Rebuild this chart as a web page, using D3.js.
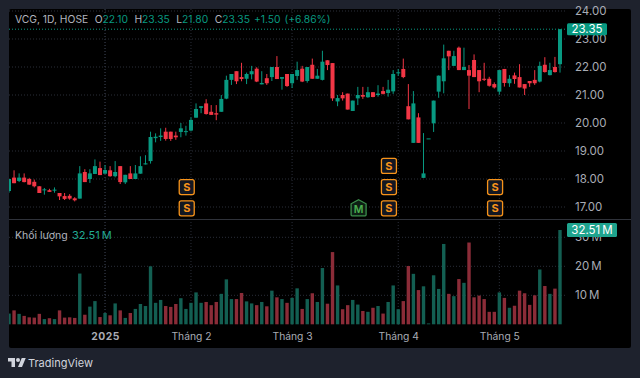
<!DOCTYPE html>
<html lang="en">

<head>
    <meta charset="UTF-8">
    <script src="https://d3js.org/d3.v7.min.js"></script>
    <title>VCG 1D</title>
    <style>
        html, body { margin: 0; padding: 0; background: #1e222d; overflow: hidden; }
        svg { display: block; font-family: Inter, Roboto, sans-serif; }
        .axis path, .axis line { display: none; }
        .axis text { fill: #a9acb5; font-size: 11.5px; font-family: Inter, Roboto, sans-serif; }
    </style>
</head>

<body>
    <svg id="mainsvg" width="640" height="378"></svg>

    <script>
        // OHLC, one entry per trading day
        const opens = [17.57, 18.05, 17.93, 18.05, 18.00, 17.90, 17.74, 17.60, 17.60, 17.60,
            17.50, 17.39, 17.40, 17.31, 17.30, 18.25, 18.00, 18.18, 18.39, 18.19,
            18.31, 18.10, 18.46, 17.88, 18.20, 18.00, 18.19, 18.52, 18.64, 19.46,
            19.50, 19.69, 19.69, 19.55, 19.68, 19.69, 19.73, 20.19, 20.54, 20.70,
            20.40, 20.35, 20.40, 20.87, 21.54, 21.85, 21.64, 21.58, 21.74, 21.94,
            21.38, 21.60, 21.64, 22.00, 21.58, 21.75, 21.42, 21.68, 21.94, 21.50,
            22.08, 21.58, 21.54, 22.24, 22.14, 20.77, 21.00, 21.05, 20.43, 20.88,
            21.00, 20.92, 21.10, 21.00, 21.14, 21.07, 21.13, 21.79, 21.93, 20.60,
            19.29, 20.20, 18.04, 19.45, 19.99, 21.12, 21.49, 22.58, 22.04, 22.69,
            21.89, 21.89, 22.25, 21.89, 21.58, 21.58, 21.39, 21.12, 21.93, 21.42,
            21.70, 21.64, 21.39, 21.50, 21.54, 21.48, 22.08, 21.71, 22.00, 22.10]
        const highs = [18.00, 18.31, 18.20, 18.20, 18.04, 17.98, 17.74, 17.68, 17.65, 17.70,
            17.50, 17.50, 17.46, 17.35, 18.46, 18.35, 18.35, 18.70, 18.62, 18.50,
            18.46, 18.64, 18.46, 18.15, 18.46, 18.50, 18.81, 18.85, 19.69, 19.63,
            19.81, 19.83, 19.69, 19.69, 20.00, 19.90, 20.20, 20.70, 20.60, 20.85,
            20.64, 20.64, 21.00, 21.69, 21.75, 21.85, 22.15, 21.80, 22.04, 21.99,
            21.85, 21.75, 22.00, 22.39, 21.64, 21.75, 21.75, 22.19, 22.04, 22.00,
            22.30, 21.93, 22.58, 22.24, 22.14, 21.00, 21.10, 21.05, 20.80, 21.29,
            21.29, 21.29, 21.10, 21.35, 21.29, 21.54, 21.89, 21.93, 22.30, 21.39,
            21.14, 20.35, 19.64, 19.45, 20.80, 21.70, 22.80, 22.58, 22.58, 22.73,
            22.69, 22.07, 22.45, 21.89, 22.15, 21.65, 21.45, 21.89, 21.93, 21.71,
            21.80, 22.10, 21.39, 21.50, 21.89, 22.19, 22.35, 22.15, 22.36, 23.35]
        const lows = [17.51, 17.85, 17.89, 17.88, 17.79, 17.70, 17.50, 17.44, 17.54, 17.51,
            17.25, 17.25, 17.26, 17.20, 17.30, 17.89, 17.86, 18.18, 18.14, 18.19,
            18.08, 18.06, 17.82, 17.82, 18.00, 18.00, 18.19, 18.52, 18.55, 19.31,
            19.36, 19.37, 19.36, 19.40, 19.49, 19.55, 19.70, 20.19, 20.35, 20.30,
            20.29, 20.10, 20.40, 20.85, 21.36, 21.39, 21.49, 21.39, 21.56, 21.46,
            21.38, 21.36, 21.50, 21.57, 21.19, 21.29, 21.25, 21.54, 21.46, 21.44,
            21.58, 21.58, 21.52, 21.89, 20.79, 20.60, 20.80, 20.48, 20.43, 20.64,
            20.86, 20.90, 20.92, 20.94, 21.02, 20.94, 21.04, 21.68, 21.60, 20.13,
            19.29, 19.29, 18.04, 19.45, 19.68, 20.90, 21.06, 21.89, 22.04, 21.89,
            21.89, 20.50, 21.64, 21.10, 21.50, 21.30, 21.23, 21.01, 21.30, 21.29,
            21.40, 21.27, 21.00, 21.29, 21.36, 21.45, 21.80, 21.70, 21.80, 21.80]
        const closes = [18.00, 17.85, 18.05, 17.89, 17.80, 17.74, 17.50, 17.63, 17.54, 17.62,
            17.38, 17.29, 17.30, 17.24, 18.20, 17.89, 18.20, 18.46, 18.14, 18.32,
            18.10, 18.25, 17.89, 18.15, 18.00, 18.20, 18.46, 18.56, 19.50, 19.51,
            19.55, 19.43, 19.43, 19.49, 19.81, 19.71, 20.11, 20.50, 20.60, 20.32,
            20.29, 20.30, 20.86, 21.54, 21.75, 21.49, 21.57, 21.75, 21.85, 21.48,
            21.43, 21.42, 22.00, 21.57, 21.64, 21.32, 21.75, 21.89, 21.48, 22.00,
            21.58, 21.69, 22.19, 22.07, 20.88, 20.89, 20.88, 20.48, 20.80, 21.00,
            20.94, 21.10, 20.93, 21.05, 21.04, 21.19, 21.75, 21.81, 21.64, 20.13,
            20.70, 19.29, 18.20, 19.45, 20.80, 21.69, 22.31, 22.38, 22.39, 21.89,
            22.00, 21.69, 21.64, 21.49, 21.54, 21.33, 21.27, 21.89, 21.43, 21.58,
            21.57, 21.27, 21.23, 21.42, 21.42, 22.04, 21.82, 21.89, 21.82, 23.35]
        // khối lượng, millions
        const volumes = [3.7, 4.8, 3.6, 2.9, 2.4, 2.3, 3.6, 1.8, 2.1, 1.8,
            4.8, 2.3, 2.4, 2.2, 17.5, 3.3, 6.1, 8.0, 2.5, 3.9,
            3.1, 7.2, 4.8, 2.2, 3.9, 5.3, 7.0, 6.3, 20.0, 7.4,
            8.4, 6.3, 6.0, 7.0, 9.0, 5.3, 7.4, 11.0, 7.4, 7.7,
            6.6, 7.7, 10.5, 15.5, 8.7, 8.7, 10.8, 7.9, 7.2, 6.6,
            7.7, 6.2, 11.6, 9.3, 8.7, 7.4, 9.1, 12.4, 5.3, 8.7,
            10.7, 7.7, 19.4, 7.1, 24.9, 13.4, 5.2, 6.6, 8.4, 6.8,
            4.6, 4.3, 5.7, 6.3, 3.7, 7.7, 13.4, 5.2, 8.0, 20.1,
            17.4, 11.8, 13.1, 0.3, 16.9, 12.2, 27.7, 10.5, 9.7, 15.6,
            14.3, 28.2, 9.3, 9.9, 8.7, 4.3, 4.3, 11.0, 9.1, 5.7,
            6.4, 11.6, 10.7, 6.7, 10.0, 18.9, 13.2, 10.5, 12.3, 32.51]

        const priceTicks = [17, 18, 19, 20, 21, 22, 23, 24]
        const volumeTicks = [10, 20, 30]
        const timeTickBars = [19, 36, 56, 77, 97]
        const timeTickLabels = ['2025', 'Tháng 2', 'Tháng 3', 'Tháng 4', 'Tháng 5']
        const splitBars = [35, 75, 96]
        const splitCounts = [2, 3, 2]
        const mergerBars = [69]
        const legendParts = ['O', '22.10', 'H', '23.35', 'L', '21.80', 'C', '23.35', '+1.50', '(+6.86%)']

        const green = '#089981'
        const red = '#f23645'
        const gridColor = '#2a2e39'

        const svg = d3.select('#mainsvg')
        const bars = d3.range(closes.length)

        const xScale = d3.scaleLinear().domain([0, bars.length - 1]).range([9, 560])
        const yPrice = d3.scaleLinear().domain([17, 24]).range([207, 11])
        const yVolume = d3.scaleLinear().domain([0, 30]).range([324.3, 237.3])
        const isUp = i => closes[i] >= opens[i]

        // 面板
        svg.append('rect').attr('x', 9).attr('y', 9).attr('width', 622).attr('height', 339)
            .attr('rx', 2).attr('fill', '#000')

        svg.append('clipPath').attr('id', 'plot').append('rect')
            .attr('x', 9).attr('y', 9).attr('width', 556).attr('height', 339)

        const plot = svg.append('g').attr('clip-path', 'url(#plot)')

        // grid
        plot.selectAll('.hgrid').data(priceTicks).enter().append('line')
            .attr('x1', 9).attr('x2', 565)
            .attr('y1', d => yPrice(d)).attr('y2', d => yPrice(d))
            .attr('stroke', gridColor).attr('stroke-dasharray', '1,2')
        plot.selectAll('.vgrid').data(volumeTicks).enter().append('line')
            .attr('x1', 9).attr('x2', 565)
            .attr('y1', d => yVolume(d)).attr('y2', d => yVolume(d))
            .attr('stroke', gridColor).attr('stroke-dasharray', '1,2')
        plot.selectAll('.tgrid').data(timeTickBars).enter().append('line')
            .attr('x1', d => xScale(d)).attr('x2', d => xScale(d))
            .attr('y1', 9).attr('y2', 325)
            .attr('stroke', gridColor).attr('stroke-dasharray', '1,2')
            .attr('stroke-width', (d, i) => i === 0 ? 1.6 : 1)

        // pane separator
        svg.append('line').attr('x1', 9).attr('x2', 631).attr('y1', 219.5).attr('y2', 219.5)
            .attr('stroke', '#2f323a')

        // last price line
        plot.append('line').attr('x1', 9).attr('x2', 565)
            .attr('y1', yPrice(closes[closes.length - 1])).attr('y2', yPrice(closes[closes.length - 1]))
            .attr('stroke', green).attr('stroke-dasharray', '1,2')

        // volume
        plot.selectAll('.vol').data(bars).enter().append('rect')
            .attr('x', i => xScale(i) - 1.7)
            .attr('width', 3.4)
            .attr('y', i => yVolume(volumes[i]))
            .attr('height', i => yVolume(0) - yVolume(volumes[i]))
            .attr('fill', i => isUp(i) ? '#135f52' : '#8b2c38')

        // candles
        plot.selectAll('.wick').data(bars).enter().append('line')
            .attr('x1', i => xScale(i)).attr('x2', i => xScale(i))
            .attr('y1', i => yPrice(highs[i])).attr('y2', i => yPrice(lows[i]))
            .attr('stroke', i => isUp(i) ? green : red)
        plot.selectAll('.body').data(bars).enter().append('rect')
            .attr('x', i => xScale(i) - 2)
            .attr('width', 4)
            .attr('y', i => yPrice(Math.max(opens[i], closes[i])))
            .attr('height', i => Math.max(1, Math.abs(yPrice(opens[i]) - yPrice(closes[i]))))
            .attr('fill', i => isUp(i) ? green : red)

        // S markers, stacked up from the bottom of the pane
        const drawSplit = (bar, level) => {
            const g = svg.append('g')
                .attr('transform', `translate(${xScale(bar) + 0.8}, ${208.3 - level * 21.2})`)
            g.append('rect').attr('x', -7.5).attr('y', -7.5).attr('width', 15).attr('height', 15)
                .attr('rx', 2).attr('fill', '#131722').attr('stroke', '#f7931a').attr('stroke-width', 1.3)
            g.append('text').attr('text-anchor', 'middle').attr('dy', '0.36em')
                .attr('font-size', 11).attr('font-weight', 700).attr('fill', '#f7931a').text('S')
        }
        splitBars.forEach((bar, k) => d3.range(splitCounts[k]).forEach(level => drawSplit(bar, level)))

        mergerBars.forEach(bar => {
            const g = svg.append('g').attr('transform', `translate(${xScale(bar) + 0.8}, 208.3)`)
            g.append('path').attr('d', 'M0,-8.5L7.5,-4.5V6.5Q7.5,7.5 6.5,7.5H-6.5Q-7.5,7.5 -7.5,6.5V-4.5Z')
                .attr('fill', '#0d1f14').attr('stroke', '#3c8f4c').attr('stroke-width', 1.3)
            g.append('text').attr('text-anchor', 'middle').attr('dy', '0.42em')
                .attr('font-size', 10.5).attr('font-weight', 600).attr('fill', '#4caf50').text('M')
        })

        // axes
        const priceAxis = svg.append('g').attr('class', 'axis')
            .attr('transform', 'translate(575, 0)')
            .call(d3.axisRight(yPrice).tickValues(priceTicks).tickSize(0).tickPadding(0).tickFormat(d3.format('.2f')))
        const volumeAxis = svg.append('g').attr('class', 'axis')
            .attr('transform', 'translate(575, 0)')
            .call(d3.axisRight(yVolume).tickValues(volumeTicks).tickSize(0).tickPadding(0).tickFormat(d => d + '\u202fM'))
        const timeAxis = svg.append('g').attr('class', 'axis')
            .attr('transform', 'translate(0, 333)')
            .call(d3.axisBottom(xScale).tickValues(timeTickBars).tickSize(0).tickPadding(0)
                .tickFormat((d, i) => timeTickLabels[i]))
        timeAxis.selectAll('text').style('font-size', '10.3px')
        timeAxis.selectAll('text').filter((d, i) => i === 0)
            .style('letter-spacing', '0.5px').style('font-weight', 700)

        // last value tags
        const lastPrice = closes[closes.length - 1]
        svg.append('rect').attr('x', 567).attr('y', yPrice(lastPrice) - 6).attr('width', 40).attr('height', 12)
            .attr('rx', 1.5).attr('fill', green)
        svg.append('text').attr('x', 587).attr('y', yPrice(lastPrice)).attr('dy', '0.36em')
            .attr('text-anchor', 'middle').attr('font-size', 11.5).attr('fill', '#fff')
            .text(d3.format('.2f')(lastPrice))

        const lastVolume = volumes[volumes.length - 1]
        svg.append('rect').attr('x', 567).attr('y', 223).attr('width', 50).attr('height', 14)
            .attr('rx', 1.5).attr('fill', '#1fa48e')
        svg.append('text').attr('x', 592).attr('y', 230).attr('dy', '0.36em')
            .attr('text-anchor', 'middle').attr('font-size', 11.5).attr('fill', '#fff')
            .text(lastVolume + '\u202fM')

        // legends
        const legend = svg.append('text').attr('x', 15).attr('y', 23).attr('font-size', 10.3)
        legend.append('tspan').attr('fill', '#b2b5be').text('VCG, 1D, HOSE')
        legendParts.forEach((part, i) => {
            const isLetter = /^[OHLC]$/.test(part)
            legend.append('tspan')
                .attr('dx', isLetter ? 6.5 : (i > 7 ? 4 : 0))
                .attr('fill', isLetter ? '#b2b5be' : green)
                .text(part)
        })

        svg.append('text').attr('x', 15).attr('y', 239).attr('font-size', 10.5)
            .attr('fill', '#b2b5be').text('Khối lượng')
        svg.append('text').attr('x', 72).attr('y', 239).attr('font-size', 11)
            .attr('fill', '#22ab94').text(lastVolume + '\u202fM')

        // TradingView logo
        const logo = svg.append('g').attr('transform', 'translate(8, 356) scale(0.5)').attr('fill', '#d1d4dc')
        logo.append('path').attr('d', 'M14 22H7V11H0V4h14v18zM28 22h-8l7.5-18h8L28 22z')
        logo.append('circle').attr('cx', 20).attr('cy', 8).attr('r', 4)
        svg.append('text').attr('x', 28).attr('y', 367).attr('font-size', 11)
            .attr('fill', '#d1d4dc').text('TradingView')
    </script>
</body>

</html>
